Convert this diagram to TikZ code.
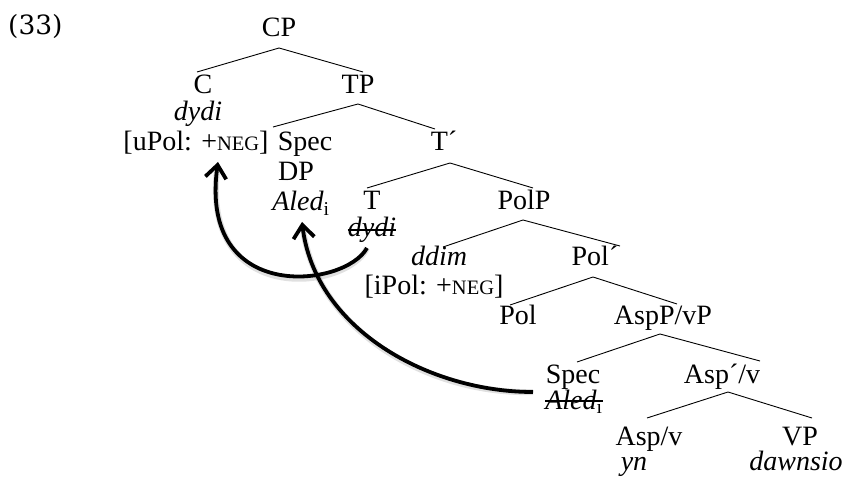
\documentclass[tikz,border=0pt]{standalone}
\usepackage{fontspec}
\setmainfont{Liberation Serif}
\newfontfamily\exfont{DejaVu Serif}
\usetikzlibrary{arrows.meta}
\newcommand\negsc{{\fontsize{20.5}{24}\selectfont NEG}}
\begin{document}
\begin{tikzpicture}[x=1pt,y=-1pt,
  lbl/.style={inner sep=0pt, anchor=base, font=\fontsize{28}{32}\selectfont},
  branch/.style={line width=0.9pt, line join=miter},
  strike/.style={line width=1.3pt},
  move/.style={line width=3.8pt, -{Straight Barb[length=13pt,width=21pt]}},
  moveshadow/.style={line width=6pt, black, opacity=0.12, shorten >=6pt}
]
\useasboundingbox (0,0) rectangle (846,478);
% labels
\node[anchor=base west, inner sep=0pt, font=\exfont\fontsize{26.5}{30}\selectfont] (ex) at (8,35) {(33)};
\node[lbl] (CP) at (279,37) {CP};
\node[lbl] (C) at (203,94) {C};
\node[lbl] (TP) at (358,94) {TP};
\node[lbl] (Cdydi) at (198,121) {\textit{dydi}};
\node[lbl] (uPol) at (196,151) {[uPol: +\negsc]};
\node[lbl] (Spec1) at (305,151) {Spec};
\node[lbl] (Tbar) at (444,151) {T´};
\node[lbl] (DP) at (296,181) {DP};
\node[lbl] (Aled) at (301,211) {\textit{Aled}\textsubscript{\upshape i}};
\node[lbl] (T) at (372,210) {T};
\node[lbl] (PolP) at (524,210) {PolP};
\node[lbl] (Tdydi) at (372,237) {\textit{dydi}};
\node[lbl] (ddim) at (439,266) {\textit{ddim}};
\node[lbl] (Polbar) at (595,266) {Pol´};
\node[lbl] (iPol) at (434,295) {[iPol: +\negsc]};
\node[lbl] (Pol) at (518,325) {Pol};
\node[lbl] (AspP) at (663,325) {AspP/vP};
\node[lbl] (Spec2) at (573,383) {Spec};
\node[lbl] (Aled2) at (574,409) {\textit{Aled}\textsubscript{\upshape i}};
\node[lbl] (Aspbar) at (722,383) {Asp´/v};
\node[lbl] (Asp) at (649,445) {Asp/v};
\node[lbl] (VP) at (800,445) {VP};
\node[lbl] (yn) at (634,470) {\textit{yn}};
\node[lbl] (dawnsio) at (796,470) {\textit{dawnsio}};
% strike-outs
\draw[strike] ([yshift=7pt]Tdydi.base west) -- ([yshift=7pt]Tdydi.base east);
\draw[strike] ([yshift=8pt]Aled2.base west) -- ([yshift=8pt]Aled2.base east);
% branch points
\coordinate (cpA) at (279,48);  \coordinate (cpL) at (197,72);  \coordinate (cpR) at (363,72);
\coordinate (tpA) at (358,104); \coordinate (tpL) at (273,127); \coordinate (tpR) at (435,129);
\coordinate (tbA) at (450,163); \coordinate (tbL) at (367,188); \coordinate (tbR) at (533,188);
\coordinate (ppA) at (523,220); \coordinate (ppL) at (443,247); \coordinate (ppR) at (620,246);
\coordinate (pbA) at (593,277); \coordinate (pbL) at (510,305); \coordinate (pbR) at (677,304);
\coordinate (apA) at (660,334); \coordinate (apL) at (577,362); \coordinate (apR) at (760,361);
\coordinate (abA) at (728,392); \coordinate (abL) at (647,418); \coordinate (abR) at (812,418);
\draw[branch] (cpL) -- (cpA) -- (cpR);
\draw[branch] (tpL) -- (tpA) -- (tpR);
\draw[branch] (tbL) -- (tbA) -- (tbR);
\draw[branch] (ppL) -- (ppA) -- (ppR);
\draw[branch] (pbL) -- (pbA) -- (pbR);
\draw[branch] (apL) -- (apA) -- (apR);
\draw[branch] (abL) -- (abA) -- (abR);
% movement arrows
\coordinate (m1s) at (367,248); \coordinate (m1t) at (218,162);
\coordinate (m2s) at (533,392); \coordinate (m2t) at (302,222);
\begin{scope}[shift={(2,3)}]
\draw[moveshadow] (m1s) .. controls (345,288) and (198,305) .. (m1t);
\draw[moveshadow] (m2s) .. controls (430,392) and (315,330) .. (m2t);
\end{scope}
\draw[move] (m1s) .. controls (345,288) and (198,305) .. (m1t);
\draw[move] (m2s) .. controls (430,392) and (315,330) .. (m2t);
\end{tikzpicture}
\end{document}
